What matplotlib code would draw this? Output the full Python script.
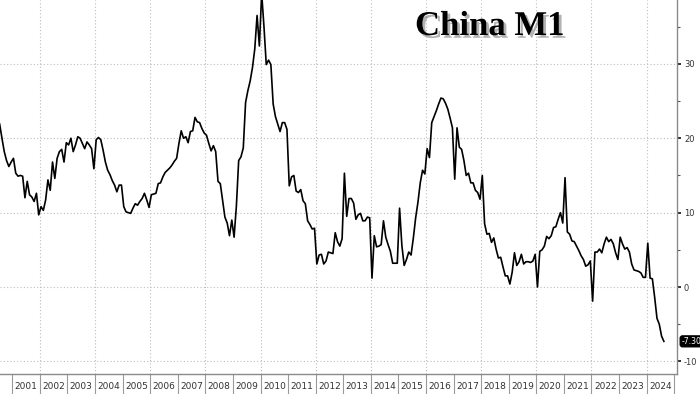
import numpy as np
import matplotlib.pyplot as plt
import matplotlib.patheffects as pe
from matplotlib.ticker import MultipleLocator, FixedLocator, NullFormatter

plt.rcParams['axes.unicode_minus'] = False

# China M1, % y/y, monthly (2000 starts in July)
y2000 = [21.9, 20.0, 18.2, 17.0, 16.2, 16.8]
y2001 = [17.3, 15.3, 14.9, 15.0, 14.9, 12.0, 14.2, 12.4, 12.1, 11.5, 12.6, 9.7]
y2002 = [10.8, 10.3, 11.7, 14.4, 13.0, 16.8, 14.6, 17.3, 18.2, 18.5, 16.8, 19.4]
y2003 = [19.1, 20.0, 18.2, 19.1, 20.2, 20.0, 19.3, 18.6, 19.5, 19.1, 18.6, 15.9]
y2004 = [19.8, 20.1, 19.8, 18.4, 16.8, 15.7, 15.1, 14.3, 13.7, 12.8, 13.7, 13.7]
y2005 = [10.8, 10.1, 10.0, 9.9, 10.6, 11.2, 11.0, 11.5, 11.9, 12.6, 11.7, 10.7]
y2006 = [12.4, 12.5, 12.6, 13.9, 14.0, 14.8, 15.4, 15.7, 16.0, 16.4, 16.9, 17.3]
y2007 = [19.3, 21.0, 20.0, 20.2, 19.4, 20.9, 21.0, 22.8, 22.2, 22.1, 21.3, 20.7]
y2008 = [20.4, 19.3, 18.3, 19.0, 18.2, 14.2, 13.9, 11.7, 9.4, 8.6, 6.9, 9.0]
y2009 = [6.7, 10.9, 17.0, 17.5, 18.7, 24.8, 26.4, 27.7, 29.5, 32.0, 36.5, 32.4]
y2010 = [39.5, 35.0, 29.9, 30.5, 29.9, 24.6, 22.9, 21.9, 20.9, 22.1, 22.1, 21.2]
y2011 = [13.6, 14.8, 15.0, 12.9, 12.7, 13.1, 11.6, 11.2, 8.9, 8.4, 7.8, 7.9]
y2012 = [3.1, 4.3, 4.4, 3.1, 3.5, 4.7, 4.6, 4.5, 7.3, 6.1, 5.5, 6.5]
y2013 = [15.3, 9.5, 11.9, 11.9, 11.3, 9.1, 9.7, 9.9, 8.9, 8.9, 9.4, 9.3]
y2014 = [1.2, 6.9, 5.4, 5.5, 5.7, 8.9, 6.7, 5.7, 4.8, 3.2, 3.2, 3.2]
y2015 = [10.6, 5.6, 2.9, 3.7, 4.7, 4.3, 6.6, 9.3, 11.4, 14.0, 15.7, 15.2]
y2016 = [18.6, 17.4, 22.1, 22.9, 23.7, 24.6, 25.4, 25.3, 24.7, 23.9, 22.7, 21.4]
y2017 = [14.5, 21.4, 18.8, 18.5, 17.0, 15.0, 15.3, 14.0, 14.0, 13.0, 12.7, 11.8]
y2018 = [15.0, 8.5, 7.1, 7.2, 6.0, 6.6, 5.1, 3.9, 4.0, 2.7, 1.5, 1.5]
y2019 = [0.4, 2.0, 4.6, 2.9, 3.4, 4.4, 3.1, 3.4, 3.4, 3.3, 3.5, 4.4]
y2020 = [0.0, 4.8, 5.0, 5.5, 6.8, 6.5, 6.9, 8.0, 8.1, 9.1, 10.0, 8.6]
y2021 = [14.7, 7.4, 7.1, 6.2, 6.1, 5.5, 4.9, 4.2, 3.7, 2.8, 3.0, 3.5]
y2022 = [-1.9, 4.7, 4.7, 5.1, 4.6, 5.8, 6.7, 6.1, 6.4, 5.8, 4.6, 3.7]
y2023 = [6.7, 5.8, 5.1, 5.3, 4.7, 3.1, 2.3, 2.2, 2.1, 1.9, 1.3, 1.3]
y2024 = [5.9, 1.2, 1.1, -1.4, -4.2, -5.0, -6.6, -7.3]

years = [(2000, y2000, 7)] + [(2001 + i, v, 1) for i, v in enumerate(
    [y2001, y2002, y2003, y2004, y2005, y2006, y2007, y2008, y2009, y2010, y2011, y2012,
     y2013, y2014, y2015, y2016, y2017, y2018, y2019, y2020, y2021, y2022, y2023, y2024])]

t, v = [], []
for yr, vals, m0 in years:
    for i, val in enumerate(vals):
        t.append(yr + (m0 + i - 0.5) / 12)
        v.append(val)

year_labels = list(range(2001, 2025))
last_label = '-7.30'

fig = plt.figure(figsize=(7, 3.94), dpi=100)
ax = fig.add_axes([0, 20 / 394, 677 / 700, 374 / 394])

ax.plot(t, v, color='black', lw=1.2, zorder=3)
ax.set_xlim(2000.554, 2025.101)
ax.set_ylim(-11.69, 38.58)

# grid
for yr in range(2002, 2025, 2):
    ax.axvline(yr, color='#bdbdbd', lw=0.8, ls=(0, (1, 2)), zorder=0)
for lv in range(-10, 31, 10):
    ax.axhline(lv, color='#bdbdbd', lw=0.8, ls=(0, (1, 2)), zorder=0)

for s in ['left', 'top']:
    ax.spines[s].set_visible(False)
for s in ['right', 'bottom']:
    ax.spines[s].set_color('#8a8a8a')
    ax.spines[s].set_linewidth(1)

# right axis
ax.yaxis.tick_right()
ax.yaxis.set_major_locator(MultipleLocator(10))
ax.yaxis.set_minor_locator(MultipleLocator(5))
ax.tick_params(axis='y', which='major', direction='out', length=3, width=1.4,
               color='#333333', labelsize=6, labelcolor='#333333', pad=2)
ax.tick_params(axis='y', which='minor', direction='out', length=2, width=0.8, color='#555555')

# year band
ax.xaxis.set_major_locator(FixedLocator(list(range(2001, 2026))))
ax.xaxis.set_major_formatter(NullFormatter())
ax.xaxis.set_minor_locator(FixedLocator([y + 0.5 for y in year_labels]))
ax.set_xticklabels([str(y) for y in year_labels], minor=True)
ax.tick_params(axis='x', which='major', direction='out', length=14.4, width=0.8, color='#9a9a9a')
ax.tick_params(axis='x', which='minor', length=0, labelsize=6.5, labelcolor='#333333', pad=6)

ax.annotate(last_label, xy=(1, v[-1]), xycoords=('axes fraction', 'data'),
            xytext=(3, 0), textcoords='offset points', ha='left', va='center',
            fontsize=5.6, color='white',
            bbox=dict(boxstyle='round,pad=0.12,rounding_size=0.3', fc='black', ec='black'))

fig.text(415 / 700, 1 - 35 / 394, 'China M1', ha='left', va='baseline',
         fontsize=25, fontweight='bold', family='Liberation Serif', color='black',
         path_effects=[pe.withSimplePatchShadow(offset=(2, -2), shadow_rgbFace=(0.4, 0.4, 0.4), alpha=0.5)])

fig.savefig('out.png', dpi=100)
